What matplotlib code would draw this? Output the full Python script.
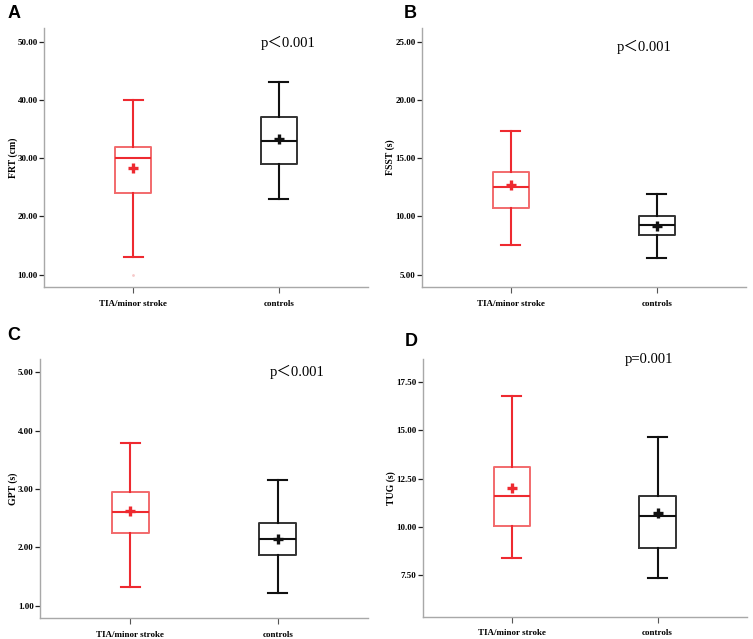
import matplotlib
matplotlib.use("Agg")
import matplotlib.pyplot as plt
import numpy as np

# group names and panel texts
groups = ["TIA/minor stroke", "controls"]
panel_letters = ["A", "B", "C", "D"]
ylabels = ["FRT (cm)", "FSST (s)", "GPT (s)", "TUG (s)"]
p_texts = ["p＜0.001", "p＜0.001", "p＜0.001", "p=0.001"]

# five-number summaries: [low whisker, Q1, median, Q3, high whisker]
frt_tia = [13.0, 24.0, 30.0, 32.0, 40.0]
frt_ctrl = [23.0, 29.0, 33.0, 37.0, 43.0]
fsst_tia = [7.55, 10.7, 12.55, 13.85, 17.35]
fsst_ctrl = [6.4, 8.43, 9.28, 10.03, 11.95]
gpt_tia = [1.32, 2.25, 2.6, 2.94, 3.78]
gpt_ctrl = [1.22, 1.86, 2.15, 2.41, 3.16]
tug_tia = [8.38, 10.06, 11.6, 13.09, 16.77]
tug_ctrl = [7.34, 8.92, 10.55, 11.58, 14.66]

# means (plus markers)
frt_means = [28.35, 33.35]
fsst_means = [12.68, 9.15]
gpt_means = [2.63, 2.15]
tug_means = [12.0, 10.7]

# outliers
frt_fliers = [[10.0], []]

yticks = [
    [10, 20, 30, 40, 50],
    [5, 10, 15, 20, 25],
    [1, 2, 3, 4, 5],
    [7.5, 10, 12.5, 15, 17.5],
]
ylims = [(7.9, 52.35), (3.94, 26.18), (0.783, 5.223), (5.337, 18.69)]

summaries = [
    (frt_tia, frt_ctrl, frt_means, frt_fliers),
    (fsst_tia, fsst_ctrl, fsst_means, [[], []]),
    (gpt_tia, gpt_ctrl, gpt_means, [[], []]),
    (tug_tia, tug_ctrl, tug_means, [[], []]),
]

W, H = 753, 639
# axes boxes in pixels: left, top, right, bottom
boxes = [
    (44, 28, 368, 287),
    (421.7, 28, 746, 287),
    (40, 359.3, 368, 618.3),
    (422.7, 359.3, 746.7, 616.7),
]
p_pos = [(0.753, 0.942), (0.686, 0.927), (0.784, 0.951), (0.698, 1.0)]
letter_pos = [(14, 13.5), (410, 14), (14, 335.5), (411, 341.5)]

red = "#ee2a30"
red_box = "#f26a6c"
black = "#111111"
black_box = "#333333"
serif = ["Liberation Serif", "Noto Sans CJK SC"]

fig = plt.figure(figsize=(W / 100, H / 100), dpi=100)
fig.patch.set_facecolor("white")

for i in range(4):
    l, t, r, b = boxes[i]
    ax = fig.add_axes([l / W, (H - b) / H, (r - l) / W, (b - t) / H])
    tia, ctrl, means, fliers = summaries[i]
    colors = [(red, red_box), (black, black_box)]
    for j, s in enumerate([tia, ctrl]):
        stats = [{
            "whislo": s[0], "q1": s[1], "med": s[2], "q3": s[3], "whishi": s[4],
            "mean": means[j], "fliers": np.array(fliers[j]), "label": groups[j],
        }]
        c, cb = colors[j]
        ax.bxp(stats, positions=[j + 1], widths=0.25, capwidths=0.13,
               showmeans=True, showfliers=True,
               boxprops=dict(color=cb, linewidth=1.4),
               whiskerprops=dict(color=c, linewidth=1.5),
               capprops=dict(color=c, linewidth=1.5),
               medianprops=dict(color=c, linewidth=1.5),
               meanprops=dict(marker="+", markeredgecolor=c, markersize=7,
                              markeredgewidth=2.4),
               flierprops=dict(marker=".", markersize=2, markeredgecolor="#f7caca",
                               markerfacecolor="#f7caca"))

    ax.set_xlim(0.389, 2.611)
    ax.set_ylim(*ylims[i])
    ax.set_xticks([1, 2])
    ax.set_xticklabels(groups, fontfamily=serif, fontweight="bold", fontsize=6.5)
    ax.set_yticks(yticks[i])
    ax.set_yticklabels(["%.2f" % v for v in yticks[i]], fontfamily=serif,
                       fontweight="bold", fontsize=6.5)
    ax.set_ylabel(ylabels[i], fontfamily=serif, fontweight="bold", fontsize=7,
                  labelpad=0)
    for side in ["top", "right"]:
        ax.spines[side].set_visible(False)
    for side in ["left", "bottom"]:
        ax.spines[side].set_color("#a8a8a8")
        ax.spines[side].set_linewidth(1.0)
    ax.tick_params(axis="y", length=3.5, width=0.9, color="#222222", pad=1)
    ax.tick_params(axis="x", length=4, width=0.8, color="#555555", pad=5)

    ax.text(p_pos[i][0], p_pos[i][1], p_texts[i], transform=ax.transAxes,
            ha="center", va="center", fontsize=10.5, family=serif)

    lx, ly = letter_pos[i]
    fig.text(lx / W, 1 - ly / H, panel_letters[i], ha="center", va="center",
             fontsize=13, fontweight="bold", family="Liberation Sans")

fig.savefig("out.png", dpi=100)
